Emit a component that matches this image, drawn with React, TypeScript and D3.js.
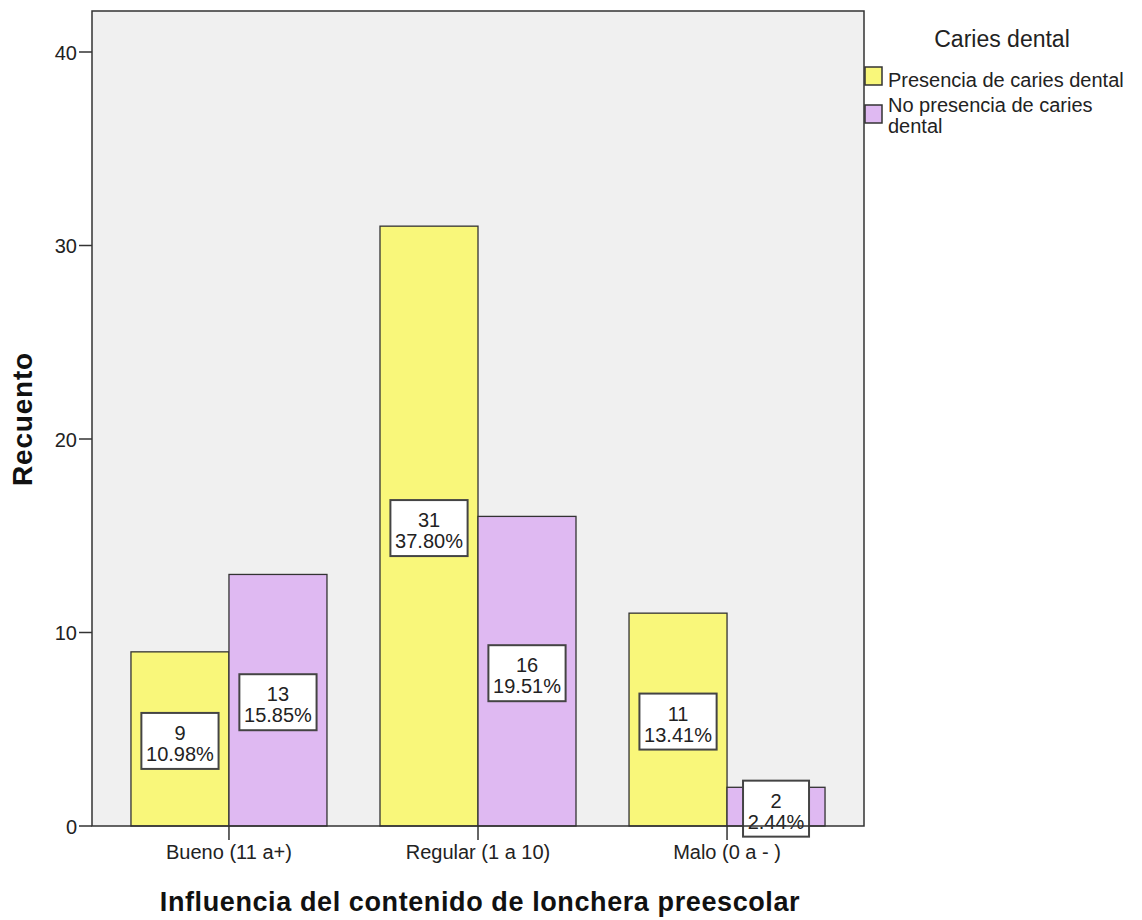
import React from "react";
import * as d3 from "d3";

const categories = ["Bueno (11 a+)", "Regular (1 a 10)", "Malo (0 a - )"];
const seriesNames = ["Presencia de caries dental", "No presencia de caries dental"];
const presencia = [9, 31, 11];
const noPresencia = [13, 16, 2];
const presenciaPct = ["10.98%", "37.80%", "13.41%"];
const noPresenciaPct = ["15.85%", "19.51%", "2.44%"];
const yTicks = [0, 10, 20, 30, 40];
const colors = ["#f9f77a", "#dfb9f2"];

const W = 1142, H = 920;
const left = 92, right = 864, top = 11, bottom = 826;
const font = "Arial, 'Liberation Sans', sans-serif";

export default function App() {
  const y = d3.scaleLinear().domain([0, 40]).range([bottom, 52]);
  const x = d3.scalePoint<string>().domain(categories).range([left, right]).padding(0.55);
  const barW = 98;
  const series = [
    { values: presencia, pct: presenciaPct, color: colors[0], offset: -barW },
    { values: noPresencia, pct: noPresenciaPct, color: colors[1], offset: 0 },
  ];
  const charW = 11.2;
  return (
    <svg width={W} height={H} style={{ position: "absolute", left: 0, top: 0 }} fontFamily={font}>
      <rect x={0} y={0} width={W} height={H} fill="#ffffff" />
      <rect x={left} y={top} width={right - left} height={bottom - top} fill="#f0f0f0" />
      {series.map((s, si) =>
        categories.map((c, i) => {
          const cx = x(c)!;
          const v = s.values[i];
          return (
            <rect key={`b${si}-${i}`} x={cx + s.offset} y={y(v)} width={barW} height={bottom - y(v)}
              fill={s.color} stroke="#333" strokeWidth={1.3} />
          );
        })
      )}
      {series.map((s, si) =>
        categories.map((c, i) => {
          const cx = x(c)! + s.offset + barW / 2;
          const v = s.values[i];
          const mid = (y(v) + bottom) / 2 + 2;
          const bw = s.pct[i].length * charW + 10;
          const bh = 56;
          return (
            <g key={`l${si}-${i}`}>
              <rect x={cx - bw / 2} y={mid - bh / 2} width={bw} height={bh} fill="#fff" stroke="#444" strokeWidth={2} />
              <text x={cx} y={mid - 1} textAnchor="middle" fontSize={20} fill="#222">{v}</text>
              <text x={cx} y={mid + 20} textAnchor="middle" fontSize={20} fill="#222">{s.pct[i]}</text>
            </g>
          );
        })
      )}
      <rect x={left} y={top} width={right - left} height={bottom - top} fill="none" stroke="#333" strokeWidth={1.5} />
      {yTicks.map((t) => (
        <g key={`yt${t}`}>
          <line x1={left - 13} x2={left} y1={y(t)} y2={y(t)} stroke="#333" strokeWidth={1.5} />
          <text x={left - 15} y={y(t) + 7.5} textAnchor="end" fontSize={20} fill="#222">{t}</text>
        </g>
      ))}
      {categories.map((c) => (
        <g key={`xt${c}`}>
          <line x1={x(c)!} x2={x(c)!} y1={bottom} y2={bottom + 14} stroke="#333" strokeWidth={1.5} />
          <text x={x(c)!} y={859} textAnchor="middle" fontSize={20} fill="#222">{c}</text>
        </g>
      ))}
      <text transform={`translate(32,419) rotate(-90)`} textAnchor="middle" fontSize={28} fontWeight="bold" fill="#111" letterSpacing={0.8}>Recuento</text>
      <text x={480} y={911} textAnchor="middle" fontSize={27} fontWeight="bold" fill="#111" letterSpacing={0.6}>Influencia del contenido de lonchera preescolar</text>
      <text x={1002} y={47} textAnchor="middle" fontSize={23} fill="#222">Caries dental</text>
      <rect x={865} y={67} width={17} height={18} fill={colors[0]} stroke="#333" strokeWidth={1.5} />
      <text x={888} y={87} fontSize={20} fill="#222">{seriesNames[0]}</text>
      <rect x={865} y={105} width={17} height={18} fill={colors[1]} stroke="#333" strokeWidth={1.5} />
      <text x={888} y={112} fontSize={20} fill="#222">No presencia de caries</text>
      <text x={888} y={133} fontSize={20} fill="#222">dental</text>
    </svg>
  );
}
